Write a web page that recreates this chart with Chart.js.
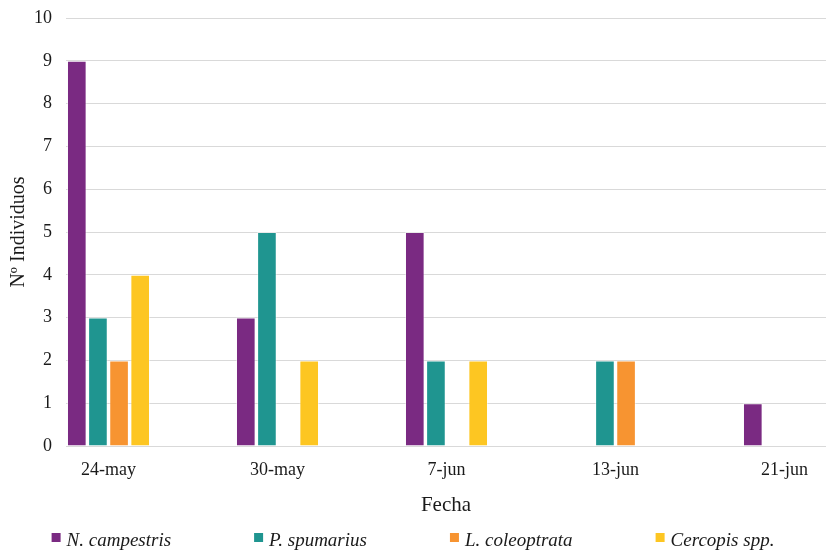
<!DOCTYPE html>
<html>
<head>
<meta charset="utf-8">
<script src="https://cdn.jsdelivr.net/npm/chart.js@4.4.1/dist/chart.umd.min.js"></script>
<style>
  html, body { margin: 0; padding: 0; background: #ffffff; overflow: hidden; }
  #wrap { width: 826px; height: 551px; position: relative; }
</style>
</head>
<body>
<div id="wrap"><canvas id="grafico"></canvas></div>
<script>
// Fechas de muestreo
const fechas = ['24-may', '30-may', '7-jun', '13-jun', '21-jun'];

// Especies capturadas
const especies = ['N. campestris', 'P. spumarius', 'L. coleoptrata', 'Cercopis spp.'];

// Nº de individuos por fecha
const nCampestris  = [9, 3, 5, 0, 1];
const pSpumarius   = [3, 5, 2, 2, 0];
const lColeoptrata = [2, 0, 0, 2, 0];
const cercopis     = [4, 2, 2, 0, 0];

const colores = ['#7a2a82', '#1f9590', '#f79431', '#fdc622'];

const series = [nCampestris, pSpumarius, lColeoptrata, cercopis];

const serif = '"Liberation Serif", "Times New Roman", serif';
const texto = '#1a1a1a';

// Leyenda en una fila, centrada bajo el título del eje X
const leyenda = {
  id: 'leyenda',
  afterDraw(chart) {
    const ctx = chart.ctx;
    ctx.save();
    ctx.font = 'italic 19px ' + serif;
    const caja = 9, hueco = 6, sep = 83;
    const items = chart.data.datasets.map(d => ({
      text: d.label,
      color: d.backgroundColor,
      w: ctx.measureText(d.label).width
    }));
    const total = items.reduce((s, it) => s + caja + hueco + it.w, 0) + sep * (items.length - 1);
    let x = (chart.width - total) / 2;
    const base = chart.height - 5;
    items.forEach(it => {
      ctx.fillStyle = it.color;
      ctx.fillRect(x, base - 13, caja, caja);
      ctx.fillStyle = texto;
      ctx.textBaseline = 'alphabetic';
      ctx.textAlign = 'left';
      ctx.fillText(it.text, x + caja + hueco, base);
      x += caja + hueco + it.w + sep;
    });
    ctx.restore();
  }
};

new Chart(document.getElementById('grafico'), {
  type: 'bar',
  data: {
    datasets: series.map((vals, k) => ({
      label: especies[k],
      data: vals.map((v, i) => ({ x: i, y: v })),
      backgroundColor: colores[k],
      borderColor: 'rgba(255,255,255,0.45)',
      borderWidth: c => (c.raw && c.raw.y ? 1 : 0),
      categoryPercentage: 0.5,
      barPercentage: 0.93
    }))
  },
  options: {
    responsive: true,
    maintainAspectRatio: false,
    animation: false,
    events: [],
    layout: { padding: { top: 18, right: 0, bottom: 30, left: 0 } },
    plugins: {
      legend: { display: false },
      tooltip: { enabled: false }
    },
    scales: {
      x: {
        type: 'linear',
        bounds: 'data',
        min: -42.5 / 169,
        max: (760 - 42.5) / 169,
        offset: false,
        grid: { display: false, drawTicks: false },
        border: { display: true, color: '#d9d9d9', width: 1 },
        afterBuildTicks(scale) {
          scale.ticks = fechas.map((_, i) => ({ value: i }));
        },
        ticks: {
          autoSkip: false,
          maxRotation: 0,
          minRotation: 0,
          padding: 13,
          color: texto,
          font: { family: serif, size: 18 },
          callback: (v, i) => fechas[i]
        },
        title: {
          display: true,
          text: 'Fecha',
          color: texto,
          font: { family: serif, size: 21 },
          padding: { top: 12, bottom: 3 }
        },
        afterFit(scale) {
          scale.paddingLeft = 0;
          scale.paddingRight = 0;
          scale.paddingTop = 0;
          scale.paddingBottom = 0;
          scale.height = 75;
        }
      },
      y: {
        min: 0,
        max: 10,
        grid: { color: '#d9d9d9', lineWidth: 1, drawTicks: false },
        border: { display: false },
        ticks: {
          stepSize: 1,
          padding: 14,
          color: texto,
          font: { family: serif, size: 18 }
        },
        title: {
          display: true,
          text: 'Nº Individuos',
          color: texto,
          font: { family: serif, size: 20 },
          padding: { top: 7, bottom: 0 }
        },
        afterFit(scale) {
          scale.width = 66;
          scale.paddingTop = 0;
          scale.paddingBottom = 0;
        }
      }
    }
  },
  plugins: [leyenda]
});
</script>
</body>
</html>
